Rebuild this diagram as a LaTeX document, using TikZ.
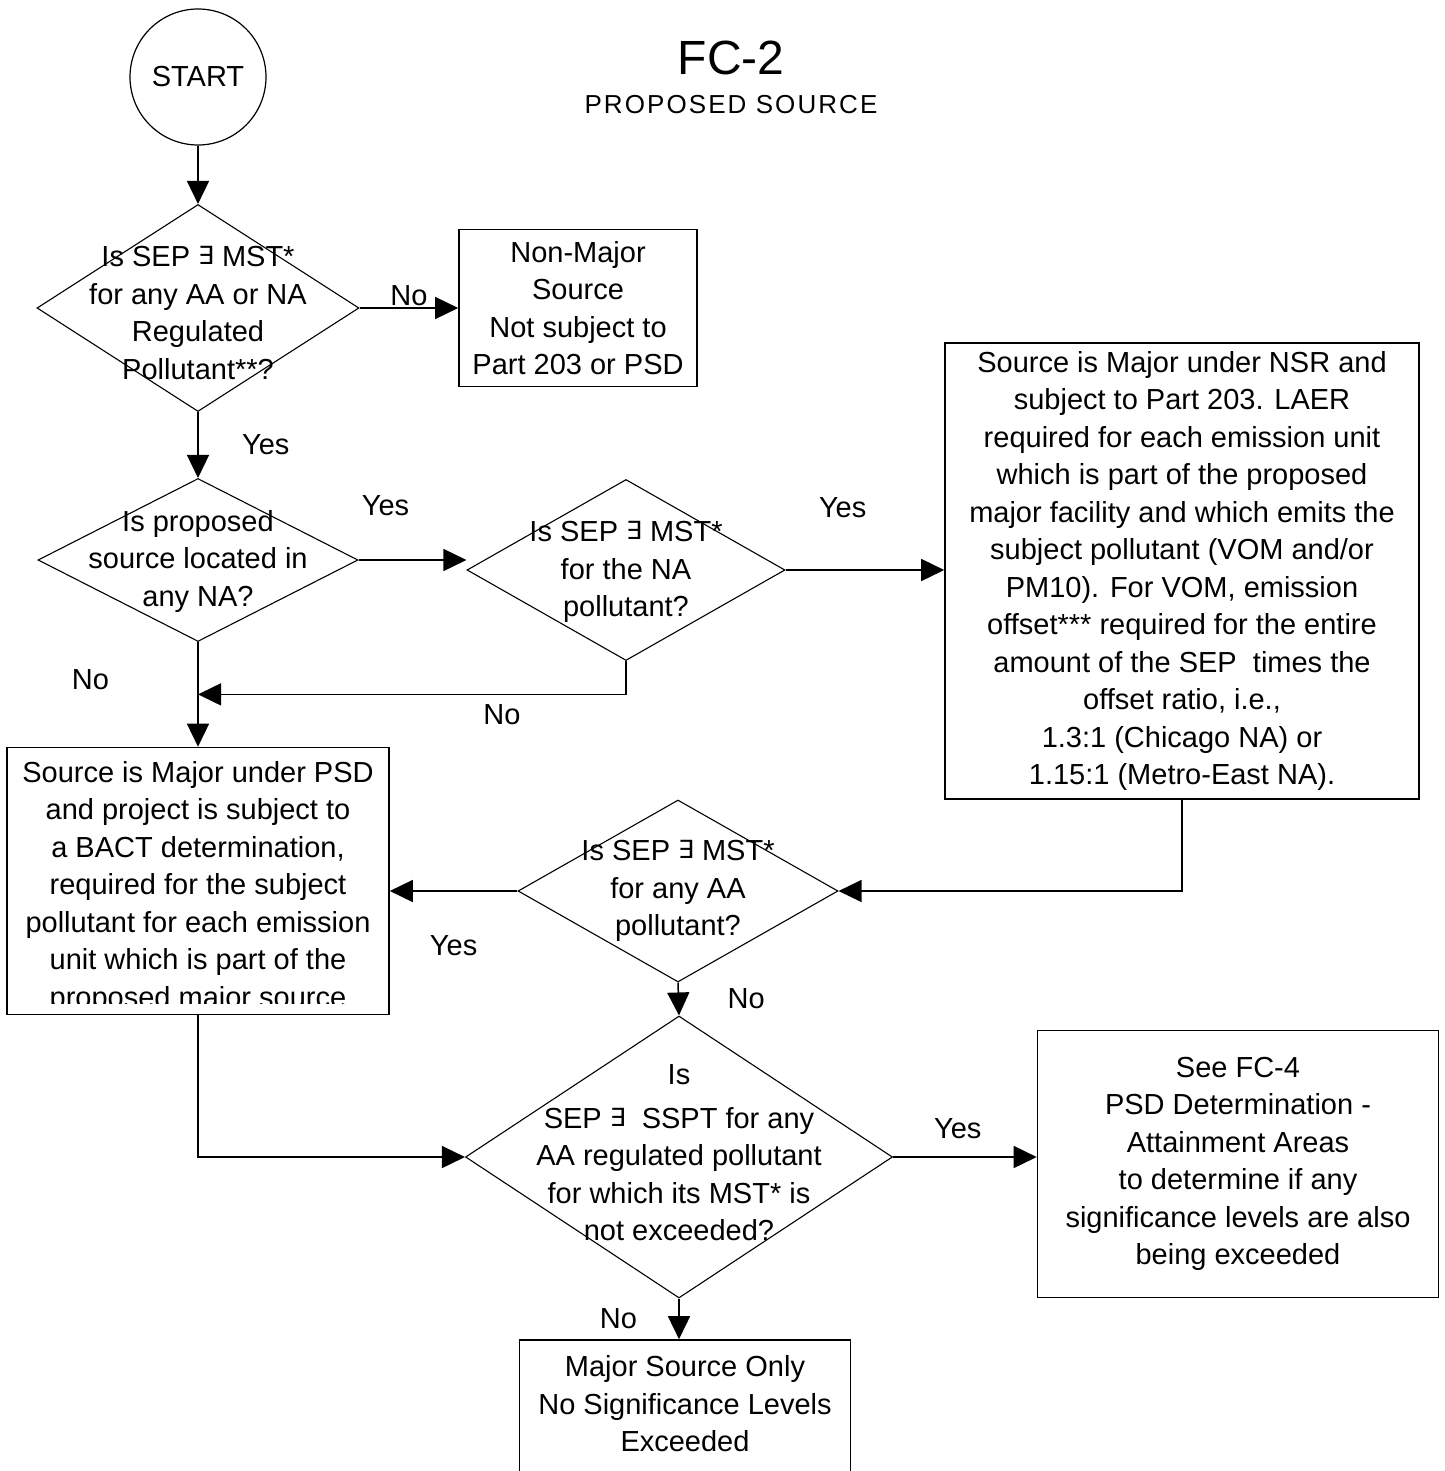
\documentclass[tikz,border=0pt]{standalone}
\usepackage{fontspec}
\setmainfont{Liberation Sans}
\newfontfamily\symfont{DejaVu Sans}
\usepackage{tikz}
\usetikzlibrary{arrows.meta,calc,shapes.geometric,positioning}
\tikzstyle{startstop} = [circle, minimum size=136pt, inner sep=0pt, draw=black, line width=1.2pt]
\tikzstyle{decision} = [diamond, inner sep=0pt, draw=black, line width=1.1pt]
\tikzstyle{process} = [rectangle, inner sep=0pt, align=center, draw=black, line width=1.6pt]
\tikzstyle{txt} = [align=center, inner sep=0pt]
\tikzstyle{arr} = [-{Triangle[length=23pt,width=22pt]}, line width=1.5pt]
\newcommand{\exsym}{\raisebox{2pt}{\symfont\fontsize{25}{25}\selectfont ∃}}

\begin{document}
\begin{tikzpicture}[x=1pt, y=-1pt]
			\tikzstyle{every node}=[font=\fontsize{29}{37.5}\selectfont]
			\useasboundingbox (0,0) rectangle (1444,1471);
			
			\node [font=\fontsize{48}{50}\selectfont] (title) at (731,58) {FC-2};
			\node [font=\fontsize{26}{30}\selectfont\addfontfeatures{LetterSpace=8}] (subtitle) at (731,105) {PROPOSED SOURCE};
			
			\node [startstop] (start) at (198,77) {START};
			
			\node [decision, minimum width=322pt, minimum height=207pt] (q1) at (198,308) {};
			\node [txt] (q1text) at (198,313) {Is SEP \exsym\ MST*\\for any AA or NA\\Regulated\\Pollutant**?};
			\node [process, minimum width=238pt, minimum height=157pt] (nonmajor) at (578,308) {Non-Major\\Source\\Not subject to\\Part 203 or PSD};
			
			\node [decision, minimum width=320pt, minimum height=163pt] (q2) at (198,560) {};
			\node [txt] (q2text) at (198,561) {Is proposed\\source located in\\any NA?};
			\node [decision, minimum width=318pt, minimum height=181pt] (q3) at (626,570) {};
			\node [txt] (q3text) at (626,572) {Is SEP \exsym\ MST*\\for the NA\\pollutant?};
			\node [process, minimum width=474pt, minimum height=456pt] (nsr) at (1182,571) {Source is Major under NSR and\\subject to Part 203. LAER\\required for each emission unit\\which is part of the proposed\\major facility and which emits the\\subject pollutant (VOM and/or\\PM10). For VOM, emission\\offset*** required for the entire\\amount of the SEP\ \ times the\\offset ratio, i.e.,\\1.3:1 (Chicago NA) or\\1.15:1 (Metro-East NA).};
			
			\node [process, minimum width=382pt, minimum height=267pt] (psd) at (198,881) {};
			\begin{scope}
				\clip ([xshift=2pt,yshift=-2pt]psd.north west) rectangle ([xshift=-2pt,yshift=12pt]psd.south east);
				\node [txt] (psdtext) at (198,887) {Source is Major under PSD\\and project is subject to\\a BACT determination,\\required for the subject\\pollutant for each emission\\unit which is part of the\\proposed major source};
			\end{scope}
			
			\node [decision, minimum width=320pt, minimum height=182pt] (q4) at (678,891) {};
			\node [txt] (q4text) at (678,891) {Is SEP \exsym\ MST*\\for any AA\\pollutant?};
			\node [decision, minimum width=427pt, minimum height=282pt] (q5) at (679,1157) {};
			\node [txt] (q5text) at (679,1153) {Is\\[6pt]SEP \exsym\ \ SSPT for any\\AA regulated pollutant\\for which its MST* is\\not exceeded?};
			\node [process, minimum width=401pt, minimum height=267pt] (fc4) at (1238,1164) {See FC-4\\PSD Determination -\\Attainment Areas\\to determine if any\\significance levels are also\\being exceeded};
			\node [process, minimum width=331pt, minimum height=140pt] (final) at (685,1410) {};
			\node [txt] (finaltext) at (685,1404) {Major Source Only\\No Significance Levels\\Exceeded};
			
			\draw [arr] (start) -- (q1);
			\draw [arr] (q1.east) -- (nonmajor.west) node [midway, above, inner sep=1pt] {No};
			\draw [arr] (q1.south) -- (q2.north) node [midway, right=40pt] {Yes};
			\draw [arr] (q2.east) -- (q2.east -| q3.west) node [pos=0.25, above=40pt] {Yes};
			\draw [arr] (q3.east) -- (q3.east -| nsr.west) node [pos=0.36, above=48pt] {Yes};
			\draw [arr] (q3.south) |- ($(q2.south)!0.5!(psd.north)$) node [pos=0.645, below=6pt] {No};
			\draw [arr] (q2.south) -- (psd.north) node [pos=0.36, left=85pt] {No};
			\draw [arr] (nsr.south) |- (q4.east);
			\draw [arr] (q4.west) -- (q4.west -| psd.east) node [midway, below=40pt] {Yes};
			\draw [arr] (q4.south) -- (q5.north) node [midway, right=45pt] {No};
			\draw [arr] (psd.south) |- (q5.west);
			\draw [arr] (q5.east) -- (q5.east -| fc4.west) node [pos=0.45, above=14pt] {Yes};
			\draw [arr] (q5.south) -- (q5.south |- final.north) node [midway, left=38pt] {No};
			
\end{tikzpicture}
\end{document}
